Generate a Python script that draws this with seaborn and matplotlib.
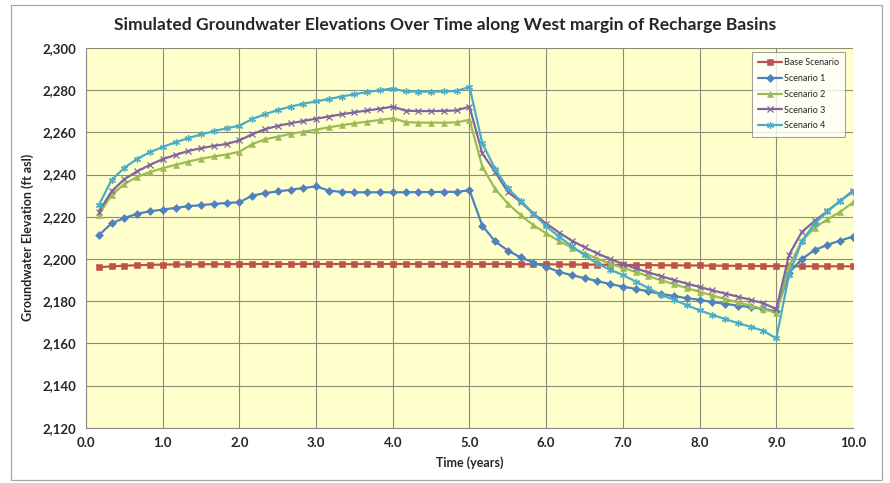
"""Simulated groundwater elevations along the west margin of the recharge basins."""

import matplotlib
matplotlib.use("Agg")
import matplotlib.pyplot as plt
import numpy as np
import pandas as pd
import seaborn as sns
from matplotlib.patches import Rectangle
from matplotlib.ticker import FuncFormatter, MultipleLocator

# time in years (bi-monthly output steps)
time_years = [
    0.167, 0.333, 0.5, 0.667, 0.833, 1.0, 1.167, 1.333, 1.5, 1.667, 1.833, 2.0,
    2.167, 2.333, 2.5, 2.667, 2.833, 3.0, 3.167, 3.333, 3.5, 3.667, 3.833, 4.0,
    4.167, 4.333, 4.5, 4.667, 4.833, 5.0, 5.167, 5.333, 5.5, 5.667, 5.833, 6.0,
    6.167, 6.333, 6.5, 6.667, 6.833, 7.0, 7.167, 7.333, 7.5, 7.667, 7.833, 8.0,
    8.167, 8.333, 8.5, 8.667, 8.833, 9.0, 9.167, 9.333, 9.5, 9.667, 9.833, 10.0,
]

base_scenario = [
    2196.1, 2196.5, 2196.8, 2197.0, 2197.2, 2197.3,
    2197.4, 2197.4, 2197.5, 2197.5, 2197.5, 2197.6,
    2197.6, 2197.6, 2197.6, 2197.6, 2197.6, 2197.6,
    2197.6, 2197.6, 2197.6, 2197.6, 2197.6, 2197.6,
    2197.6, 2197.6, 2197.6, 2197.6, 2197.6, 2197.6,
    2197.6, 2197.6, 2197.6, 2197.5, 2197.5, 2197.5,
    2197.4, 2197.4, 2197.3, 2197.3, 2197.2, 2197.2,
    2197.1, 2197.1, 2197.0, 2197.0, 2196.9, 2196.9,
    2196.8, 2196.8, 2196.7, 2196.7, 2196.6, 2196.6,
    2196.6, 2196.5, 2196.5, 2196.5, 2196.5, 2196.5,
]

scenario_1 = [
    2211.2, 2216.9, 2219.4, 2221.4, 2222.6, 2223.4,
    2224.2, 2225.0, 2225.5, 2226.1, 2226.5, 2226.9,
    2230.0, 2231.2, 2232.0, 2232.8, 2233.6, 2234.4,
    2232.4, 2231.8, 2231.6, 2231.6, 2231.6, 2231.6,
    2231.6, 2231.7, 2231.7, 2231.8, 2231.8, 2232.6,
    2215.8, 2208.3, 2204.0, 2200.7, 2198.3, 2196.2,
    2193.9, 2192.3, 2190.9, 2189.5, 2188.1, 2186.9,
    2185.8, 2184.6, 2183.4, 2182.4, 2181.4, 2180.6,
    2179.6, 2178.7, 2177.9, 2177.1, 2176.3, 2175.2,
    2193.4, 2200.0, 2204.2, 2206.7, 2208.7, 2210.6,
]

scenario_2 = [
    2220.8, 2230.3, 2235.5, 2238.9, 2241.2, 2243.0,
    2244.6, 2246.1, 2247.5, 2248.6, 2249.5, 2250.8,
    2254.4, 2256.7, 2258.0, 2259.3, 2260.3, 2261.3,
    2262.4, 2263.4, 2264.3, 2265.1, 2265.9, 2266.7,
    2264.9, 2264.6, 2264.6, 2264.6, 2264.7, 2266.0,
    2243.7, 2233.3, 2226.2, 2220.8, 2216.0, 2212.1,
    2208.5, 2205.4, 2202.6, 2200.1, 2197.8, 2195.8,
    2193.8, 2191.8, 2189.9, 2188.0, 2186.2, 2184.4,
    2182.7, 2181.0, 2179.4, 2177.8, 2176.3, 2174.4,
    2196.5, 2208.6, 2214.8, 2218.8, 2222.3, 2226.8,
]

scenario_3 = [
    2222.4, 2232.0, 2237.8, 2241.5, 2244.6, 2247.3,
    2249.3, 2251.2, 2252.5, 2253.6, 2254.5, 2256.2,
    2259.1, 2261.5, 2263.1, 2264.3, 2265.4, 2266.5,
    2267.5, 2268.6, 2269.5, 2270.4, 2271.2, 2272.2,
    2270.3, 2270.1, 2270.1, 2270.2, 2270.4, 2272.2,
    2250.0, 2241.3, 2231.8, 2227.0, 2221.5, 2216.8,
    2212.5, 2208.7, 2205.5, 2202.6, 2200.0, 2197.6,
    2195.5, 2193.6, 2191.8, 2190.0, 2188.3, 2186.7,
    2185.1, 2183.6, 2182.1, 2180.6, 2179.0, 2176.2,
    2202.0, 2212.8, 2218.0, 2222.7, 2227.5, 2232.3,
]

scenario_4 = [
    2225.5, 2237.4, 2243.2, 2247.4, 2250.6, 2253.1,
    2255.3, 2257.3, 2259.0, 2260.6, 2261.9, 2263.2,
    2266.3, 2268.6, 2270.6, 2272.2, 2273.6, 2274.7,
    2275.8, 2277.0, 2278.1, 2279.1, 2280.0, 2280.8,
    2279.4, 2279.3, 2279.3, 2279.4, 2279.6, 2281.6,
    2254.8, 2242.8, 2233.4, 2227.6, 2221.5, 2215.5,
    2210.6, 2206.0, 2201.8, 2197.8, 2194.9, 2192.4,
    2189.3, 2186.2, 2183.0, 2180.6, 2178.1, 2175.6,
    2173.5, 2171.5, 2169.6, 2167.8, 2165.9, 2162.3,
    2192.6, 2208.4, 2216.8, 2222.5, 2227.6, 2231.8,
]

series_names = ["Base Scenario", "Scenario 1", "Scenario 2", "Scenario 3", "Scenario 4"]
series_values = [base_scenario, scenario_1, scenario_2, scenario_3, scenario_4]
colors = ["#C0504D", "#4F81BD", "#9BBB59", "#8064A2", "#4BACC6"]
markers = ["s", "D", "^", "x", (6, 2, 0)]
marker_sizes = [4, 4, 5, 4, 5]

sns.set_style("white")
plt.rcParams["font.family"] = ["Lato", "DejaVu Sans"]

fig = plt.figure(figsize=(8.9, 4.83), dpi=100)
ax = fig.add_axes([86 / 890, 1 - 427.7 / 483, (853 - 86) / 890, (427.7 - 48) / 483])
ax.set_facecolor("#FFFFCC")

# outer chart frame
fig.patches.append(
    Rectangle((11 / 890, 3 / 483), 871 / 890, 475 / 483, transform=fig.transFigure,
              fill=False, edgecolor="#A6A6A6", linewidth=0.9)
)

df = pd.DataFrame({"time": time_years})
for name, vals in zip(series_names, series_values):
    df[name] = vals

for i, (name, color, mk, ms) in enumerate(zip(series_names, colors, markers, marker_sizes)):
    thin = mk == "x" or isinstance(mk, tuple)
    sns.lineplot(
        data=df, x="time", y=name, ax=ax, color=color, marker=mk, markersize=ms,
        markeredgecolor=color, markeredgewidth=0.9 if thin else 0.4,
        linewidth=1.6, label=name, zorder=3 + i,
    )

ax.set_xlim(0, 10)
ax.set_ylim(2120, 2300)
ax.xaxis.set_major_locator(MultipleLocator(1))
ax.yaxis.set_major_locator(MultipleLocator(20))
ax.xaxis.set_major_formatter(FuncFormatter(lambda v, _: f"{v:.1f}"))
ax.yaxis.set_major_formatter(FuncFormatter(lambda v, _: f"{v:,.0f}"))
ax.grid(True, color="#8C8C7A", linewidth=0.8)
ax.set_axisbelow(True)

for side in ("top", "right"):
    ax.spines[side].set_visible(False)
for side in ("left", "bottom"):
    ax.spines[side].set_color("#8C8C8C")
    ax.spines[side].set_linewidth(0.8)

ax.tick_params(axis="both", which="major", direction="out", length=4, width=0.8,
               color="#8C8C8C", labelsize=9.5, pad=3)
for lbl in ax.get_xticklabels() + ax.get_yticklabels():
    lbl.set_fontweight("bold")

ax.set_xlabel("Time (years)", fontsize=9, fontweight="bold", labelpad=5)
ax.set_ylabel("Groundwater Elevation (ft asl)", fontsize=9, fontweight="bold", labelpad=6)

fig.text(0.5, 1 - 25 / 483, "Simulated Groundwater Elevations Over Time along West margin of Recharge Basins",
         ha="center", va="center", fontsize=12.6, fontweight="bold")

leg = ax.legend(
    loc="upper right", bbox_to_anchor=(845 / 890, 1 - 52 / 483), bbox_transform=fig.transFigure,
    fontsize=6.5, frameon=True, fancybox=False, handlelength=2.6, handletextpad=0.2,
    labelspacing=0.75, borderpad=0.7, borderaxespad=0,
)
leg.get_frame().set_edgecolor("#8C8C8C")
leg.get_frame().set_linewidth(0.8)
leg.get_frame().set_facecolor("white")
leg.set_zorder(20)

plt.savefig("out.png", dpi=100)
plt.close()
